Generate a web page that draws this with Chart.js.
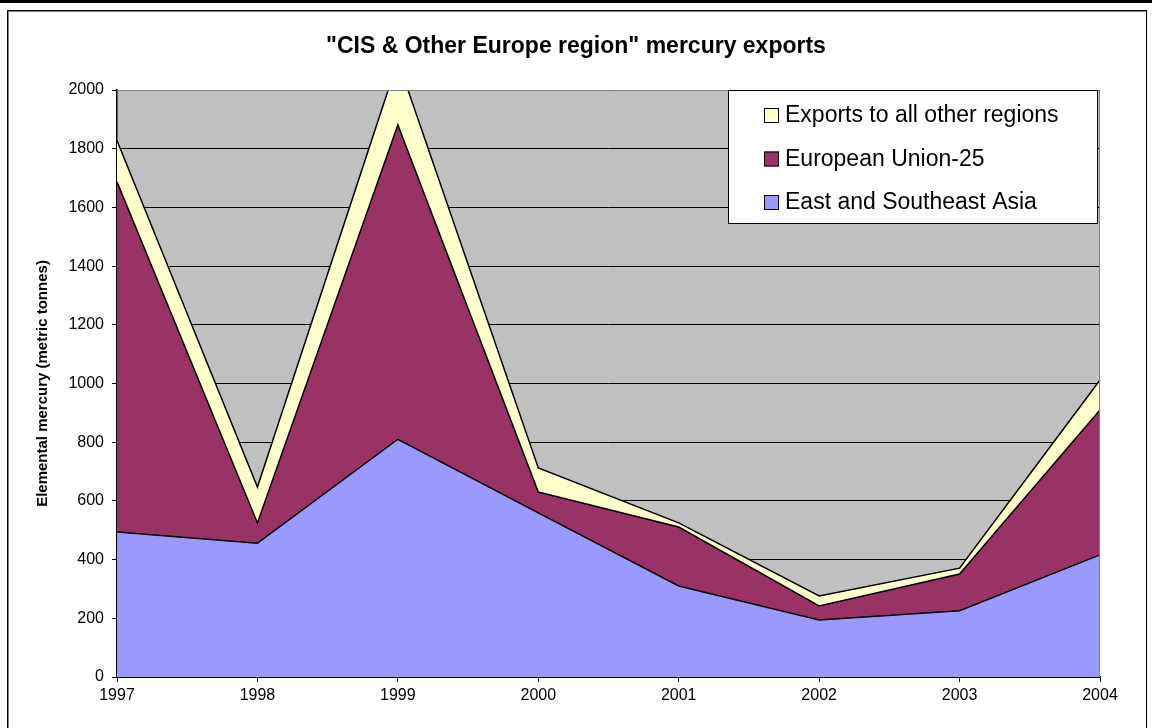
<!DOCTYPE html>
<html>
<head>
<meta charset="utf-8">
<script src="https://cdn.jsdelivr.net/npm/chart.js@4.4.1/dist/chart.umd.min.js"></script>
<style>
  html, body { margin:0; padding:0; background:#fff; }
  #topbar { position:absolute; left:0; top:0; width:1152px; height:3px; background:#000; }
  #frame { position:absolute; left:7px; top:10px; width:1138px; height:730px; border:1px solid #000; box-shadow:inset 1px 1px 0 #808080; }
  #wrap { position:absolute; left:0; top:0; width:1152px; height:728px; }
</style>
</head>
<body>
<div id="topbar"></div>
<div id="frame"></div>
<div id="wrap"><canvas id="chart"></canvas></div>
<script>
  // Dados (toneladas métricas)
  const years = ['1997','1998','1999','2000','2001','2002','2003','2004'];
  const asia  = [494, 456, 810, 559, 310, 194, 226, 416];
  const eu25  = [1193, 69, 1071, 71, 201, 48, 125, 494];
  const other = [141, 122, 219, 82, 14, 34, 20, 102];

  const titleText = '"CIS & Other Europe region" mercury exports';
  const yTitle = 'Elemental mercury (metric tonnes)';
  const legendItems = [
    { label:'Exports to all other regions', color:'#FFFFCC' },
    { label:'European Union-25',            color:'#993366' },
    { label:'East and Southeast Asia',      color:'#9999FF' }
  ];

  const FONT = 'Arial, "Liberation Sans", sans-serif';

  // Fundo cinza da área do gráfico
  const plotBg = {
    id:'plotBg',
    beforeDraw(chart){
      const { ctx, chartArea:a } = chart;
      ctx.save();
      ctx.fillStyle = '#C0C0C0';
      ctx.fillRect(a.left, a.top, a.right - a.left, a.bottom - a.top);
      ctx.restore();
    },
    afterDatasetsDraw(chart){
      const { ctx, chartArea:a } = chart;
      ctx.save();
      ctx.strokeStyle = '#808080';
      ctx.lineWidth = 1;
      ctx.beginPath();
      ctx.moveTo(a.left, a.top + 0.5);
      ctx.lineTo(a.right - 0.5, a.top + 0.5);
      ctx.lineTo(a.right - 0.5, a.bottom);
      ctx.stroke();
      ctx.restore();
    }
  };

  // Título e legenda desenhados à mão
  const extras = {
    id:'extras',
    afterDraw(chart){
      const ctx = chart.ctx;
      ctx.save();
      ctx.fillStyle = '#000';
      ctx.font = 'bold 23px ' + FONT;
      ctx.textAlign = 'center';
      ctx.textBaseline = 'middle';
      ctx.fillText(titleText, 576, 47);

      // caixa da legenda
      const lx = 728, ly = 90, lw = 369, lh = 133;
      ctx.fillStyle = '#fff';
      ctx.fillRect(lx, ly, lw, lh);
      ctx.strokeStyle = '#000';
      ctx.lineWidth = 1;
      ctx.strokeRect(lx + 0.5, ly + 0.5, lw, lh);
      ctx.font = '23px ' + FONT;
      ctx.textAlign = 'left';
      legendItems.forEach((it, i) => {
        const cy = 115 + i * 43.5;
        ctx.fillStyle = it.color;
        ctx.fillRect(764, cy - 7, 15, 15);
        ctx.strokeStyle = '#000';
        ctx.strokeRect(764.5, cy - 6.5, 14, 14);
        ctx.fillStyle = '#000';
        ctx.fillText(it.label, 785, cy + 1);
      });
      ctx.restore();
    }
  };

  const area = (label, data, color, fill) => ({
    label, data, fill,
    backgroundColor: color, borderColor:'#000', borderWidth:1.5,
    pointRadius:0, tension:0
  });

  new Chart(document.getElementById('chart'), {
    type:'line',
    data:{
      labels: years,
      datasets:[
        area('East and Southeast Asia', asia, '#9999FF', 'origin'),
        area('European Union-25', eu25, '#993366', '-1'),
        area('Exports to all other regions', other, '#FFFFCC', '-1')
      ]
    },
    options:{
      responsive:true, maintainAspectRatio:false, animation:false,
      layout:{ padding:{ top:90, right:52, bottom:0, left:0 } },
      plugins:{ legend:{ display:false }, title:{ display:false }, tooltip:{ enabled:false } },
      scales:{
        x:{
          offset:false,
          grid:{ drawOnChartArea:false, drawTicks:true, tickLength:5, color:'#000' },
          border:{ color:'#000', width:1.5 },
          ticks:{ color:'#000', font:{ family:FONT, size:16 }, padding:4, maxRotation:0, autoSkip:false },
          afterFit(s){ s.height = 51; }
        },
        y:{
          stacked:true, min:0, max:2000,
          grid:{ color:'#000', lineWidth:1, tickLength:5 },
          border:{ color:'#000', width:1.5 },
          ticks:{ stepSize:200, color:'#000', font:{ family:FONT, size:16 }, padding:8, callback:v => String(v) },
          title:{ display:true, text:yTitle, color:'#000', font:{ family:FONT, size:15, weight:'bold' }, padding:{ top:34, bottom:0 } },
          afterFit(s){ s.width = 117; }
        }
      }
    },
    plugins:[plotBg, extras]
  });
</script>
</body>
</html>
